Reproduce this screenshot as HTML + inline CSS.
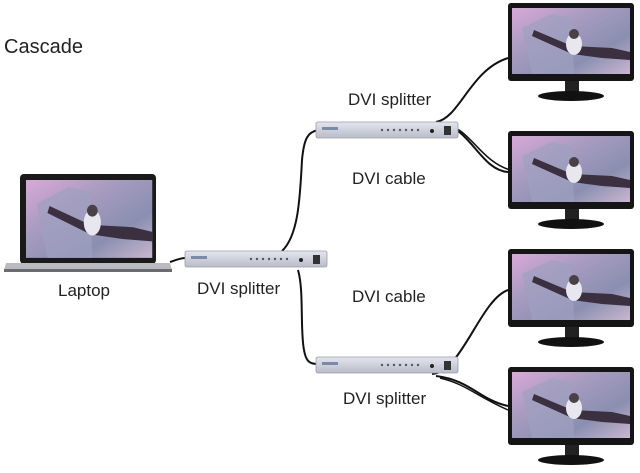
<!DOCTYPE html>
<html><head><style>
html,body{margin:0;padding:0;background:#fff}
svg{display:block}
text{font-family:"Liberation Sans",sans-serif;fill:#222}
</style></head><body>
<svg width="640" height="473" viewBox="0 0 640 473" xmlns="http://www.w3.org/2000/svg">
<defs>
<linearGradient id="scr" x1="0" y1="0" x2="1" y2="1">
<stop offset="0" stop-color="#d9a9d8"/><stop offset="0.35" stop-color="#a89cc0"/><stop offset="0.7" stop-color="#8a8fb0"/><stop offset="1" stop-color="#c9b6d0"/>
</linearGradient>
<linearGradient id="spl" x1="0" y1="0" x2="0" y2="1">
<stop offset="0" stop-color="#e4e6ee"/><stop offset="1" stop-color="#b8bcc8"/>
</linearGradient>
<g id="screenimg">
<rect x="0" y="0" width="118" height="66" fill="url(#scr)"/>
<path d="M10 20 L40 6 L60 10 L62 66 L20 66 Z" fill="#9fa0c0" opacity="0.7"/>
<path d="M22 22 L60 38 L100 40 L118 44 L118 52 L90 50 L60 46 L20 28 Z" fill="#3b3040"/>
<ellipse cx="62" cy="36" rx="8" ry="11" fill="#e8e6ee"/>
<circle cx="62" cy="26" r="5" fill="#4a4048"/>
</g>
<g id="mon">
<rect x="0" y="0" width="126" height="78" rx="3" fill="#151515"/>
<g transform="translate(4,5)"><use href="#screenimg"/></g>
<rect x="57" y="78" width="14" height="12" fill="#222"/>
<ellipse cx="63" cy="93" rx="33" ry="5" fill="#111"/>
</g>
<g id="split">
<rect x="0" y="0" width="142" height="16" rx="2" fill="url(#spl)" stroke="#9a9eaa" stroke-width="0.8"/>
<g fill="#556">
<circle cx="66" cy="8" r="1.2"/><circle cx="72" cy="8" r="1.2"/><circle cx="78" cy="8" r="1.2"/><circle cx="84" cy="8" r="1.2"/><circle cx="90" cy="8" r="1.2"/><circle cx="96" cy="8" r="1.2"/><circle cx="102" cy="8" r="1.2"/></g>
<circle cx="116" cy="9" r="2" fill="#222"/>
<rect x="128" y="4" width="7" height="9" fill="#333"/>
<rect x="6" y="5" width="16" height="3" fill="#7a8aa8"/>
</g>
</defs>

<text x="4" y="53" font-size="20">Cascade</text>

<!-- cables -->
<g fill="none" stroke="#111" stroke-width="2">
<path d="M170 262 C176 260 180 258 186 258"/>
<path d="M282 251 C298 236 300 200 302 160 C304 138 308 132 318 130"/>
<path d="M298 270 C304 290 300 330 304 350 C306 362 310 364 318 364"/>
<path d="M436 122 C460 118 470 70 508 58"/>
<path d="M440 124 C470 126 480 170 508 172"/>
<path d="M444 126 C468 124 478 160 510 170" stroke-width="1.5"/>
<path d="M432 374 C462 372 480 300 508 290"/>
<path d="M436 376 C470 380 480 400 508 406"/>
<path d="M440 378 C466 384 476 396 508 410" stroke-width="1.5"/>
</g>

<!-- laptop -->
<rect x="20" y="174" width="136" height="90" rx="4" fill="#1a1a1a"/>
<g transform="translate(26,180) scale(1.07,1.18)"><use href="#screenimg"/></g>
<path d="M6 263 L170 263 L172 270 L4 270 Z" fill="#b9bbc0"/>
<rect x="4" y="269" width="168" height="3" fill="#6a6a70"/>

<!-- splitters -->
<use href="#split" x="185" y="251"/>
<use href="#split" x="316" y="122"/>
<use href="#split" x="316" y="357"/>

<!-- monitors -->
<use href="#mon" x="508" y="3"/>
<use href="#mon" x="508" y="131"/>
<use href="#mon" x="508" y="249"/>
<use href="#mon" x="508" y="367"/>

<text x="348" y="105" font-size="17">DVI splitter</text>
<text x="352" y="184" font-size="17">DVI cable</text>
<text x="58" y="296" font-size="17">Laptop</text>
<text x="197" y="294" font-size="17">DVI splitter</text>
<text x="352" y="302" font-size="17">DVI cable</text>
<text x="343" y="404" font-size="17">DVI splitter</text>
</svg>
</body></html>
